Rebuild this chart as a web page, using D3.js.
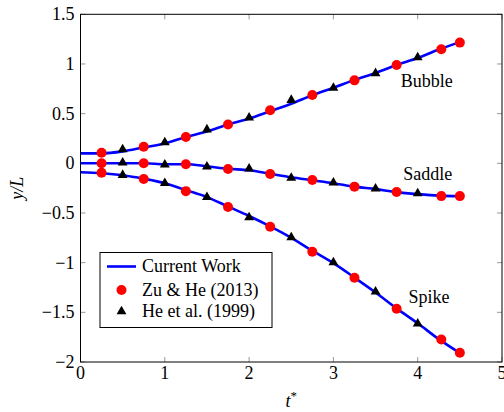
<!DOCTYPE html>
<html>
<head>
<meta charset="utf-8">
<script src="https://cdn.jsdelivr.net/npm/d3@7"></script>
</head>
<body style="margin:0">
<div id="chart"></div>
<script>
// Current Work (line) sampled every 0.25
var lineT = [0, 0.25, 0.5, 0.75, 1, 1.25, 1.5, 1.75, 2, 2.25, 2.5, 2.75, 3, 3.25, 3.5, 3.75, 4, 4.25, 4.5];
var lineBubble = [0.1, 0.1, 0.12, 0.16, 0.2, 0.265, 0.32, 0.39, 0.45, 0.525, 0.6, 0.685, 0.76, 0.84, 0.91, 0.99, 1.06, 1.145, 1.22];
var lineSaddle = [0.0, 0.0, 0.0, 0.0, -0.01, -0.01, -0.03, -0.055, -0.07, -0.105, -0.14, -0.17, -0.2, -0.235, -0.26, -0.29, -0.31, -0.325, -0.33];
var lineSpike = [-0.09, -0.1, -0.12, -0.155, -0.2, -0.27, -0.34, -0.435, -0.53, -0.635, -0.75, -0.88, -1.005, -1.15, -1.3, -1.46, -1.61, -1.77, -1.91];

// Zu & He (2013)
var zuT = [0.25, 0.75, 1.25, 1.75, 2.25, 2.75, 3.25, 3.75, 4.28, 4.5];
var zuBubble = [0.107, 0.167, 0.265, 0.39, 0.535, 0.688, 0.835, 0.99, 1.148, 1.215];
var zuSaddle = [0.0, 0.0, -0.01, -0.057, -0.108, -0.168, -0.235, -0.289, -0.33, -0.33];
var zuSpike = [-0.095, -0.158, -0.28, -0.44, -0.638, -0.89, -1.152, -1.464, -1.773, -1.907];

// He et al. (1999)
var heT = [0.5, 1, 1.5, 2, 2.5, 3, 3.5, 4];
var heBubble = [0.14, 0.21, 0.34, 0.46, 0.637, 0.76, 0.906, 1.067];
var heSaddle = [0.006, -0.014, -0.034, -0.054, -0.148, -0.195, -0.256, -0.302];
var heSpike = [-0.118, -0.2, -0.34, -0.544, -0.745, -0.997, -1.293, -1.615];

var xTicks = [0, 1, 2, 3, 4, 5];
var yTicks = [-2, -1.5, -1, -0.5, 0, 0.5, 1, 1.5];
var legendLabels = ['Current Work', 'Zu & He (2013)', 'He et al. (1999)'];
var curveNames = ['Bubble', 'Saddle', 'Spike'];

var W = 504, H = 412;
var x = d3.scaleLinear().domain([0, 5]).range([80.5, 502]);
var y = d3.scaleLinear().domain([-2, 1.5]).range([362, 14.3]);

var svg = d3.select('#chart').append('svg')
  .attr('width', W).attr('height', H);

function zip(ts, vs) {
  return ts.map(function (t, i) { return [t, vs[i]]; });
}

function label(parent, txt) {
  var t = parent.append('text')
    .style('font-family', 'Liberation Serif')
    .style('font-size', '18px');
  if (txt != null) t.text(txt);
  return t;
}

// inward ticks on all four sides
var tickLen = 5;
var tickColor = '#999';
var tg = svg.append('g');
xTicks.forEach(function (t) {
  tg.append('line').attr('x1', x(t)).attr('x2', x(t)).attr('y1', y(-2)).attr('y2', y(-2) - tickLen)
    .attr('stroke', tickColor);
  tg.append('line').attr('x1', x(t)).attr('x2', x(t)).attr('y1', y(1.5)).attr('y2', y(1.5) + tickLen)
    .attr('stroke', tickColor);
});
yTicks.forEach(function (v) {
  tg.append('line').attr('x1', x(0)).attr('x2', x(0) + tickLen).attr('y1', y(v)).attr('y2', y(v))
    .attr('stroke', tickColor);
  tg.append('line').attr('x1', x(5)).attr('x2', x(5) - tickLen).attr('y1', y(v)).attr('y2', y(v))
    .attr('stroke', tickColor);
});

// tick labels
var fmt = d3.format('~g');
xTicks.forEach(function (t) {
  label(svg, fmt(t)).attr('x', x(t)).attr('y', y(-2) + 17).attr('text-anchor', 'middle');
});
yTicks.forEach(function (v) {
  label(svg, fmt(v)).attr('x', x(0) - 6).attr('y', y(v)).attr('dy', '0.33em').attr('text-anchor', 'end');
});

// axis titles
var xt = label(svg, null).attr('x', x(2.5)).attr('y', 407).attr('text-anchor', 'middle');
xt.append('tspan').style('font-style', 'italic').text('t');
xt.append('tspan').attr('dy', -7).style('font-size', '13px').text('*');

label(svg, 'y/L').attr('transform', 'translate(23,' + y(-0.25) + ') rotate(-90)')
  .attr('text-anchor', 'middle').style('font-style', 'italic');

// lines
var line = d3.line().x(function (d) { return x(d[0]); }).y(function (d) { return y(d[1]); })
  .curve(d3.curveMonotoneX);
[lineBubble, lineSaddle, lineSpike].forEach(function (vals) {
  svg.append('path').datum(zip(lineT, vals))
    .attr('fill', 'none').attr('stroke', '#0000ff').attr('stroke-width', 2.6)
    .attr('d', line);
});

// Zu & He circles
[zuBubble, zuSaddle, zuSpike].forEach(function (vals) {
  svg.append('g').selectAll('circle').data(zip(zuT, vals)).enter().append('circle')
    .attr('cx', function (d) { return x(d[0]); })
    .attr('cy', function (d) { return y(d[1]); })
    .attr('r', 5).attr('fill', '#ff0000');
});

// He et al. triangles
var tri = d3.symbol().type(d3.symbolTriangle).size(42);
[heBubble, heSaddle, heSpike].forEach(function (vals) {
  svg.append('g').selectAll('path').data(zip(heT, vals)).enter().append('path')
    .attr('transform', function (d) { return 'translate(' + x(d[0]) + ',' + y(d[1]) + ')'; })
    .attr('d', tri).attr('fill', '#000');
});

// frame
svg.append('rect').attr('x', x(0)).attr('y', y(1.5))
  .attr('width', x(5) - x(0)).attr('height', y(-2) - y(1.5))
  .attr('fill', 'none').attr('stroke', '#000').attr('stroke-width', 1);

// curve names
var namePos = [[3.8, 0.83], [3.83, -0.11], [3.89, -1.35]];
curveNames.forEach(function (n, i) {
  label(svg, n).attr('x', x(namePos[i][0])).attr('y', y(namePos[i][1])).attr('dy', '0.33em');
});

// legend
var lg = svg.append('g').attr('transform', 'translate(100,252.5)');
lg.append('rect').attr('width', 172).attr('height', 75).attr('fill', '#fff')
  .attr('stroke', '#000').attr('stroke-width', 1);
var rowY = [14, 37.5, 59];
lg.append('line').attr('x1', 7).attr('x2', 36).attr('y1', rowY[0]).attr('y2', rowY[0])
  .attr('stroke', '#0000ff').attr('stroke-width', 2.6);
lg.append('circle').attr('cx', 21.5).attr('cy', rowY[1]).attr('r', 5).attr('fill', '#ff0000');
lg.append('path').attr('transform', 'translate(21.5,' + rowY[2] + ')').attr('d', tri).attr('fill', '#000');
legendLabels.forEach(function (l, i) {
  label(lg, l).attr('x', 42).attr('y', rowY[i]).attr('dy', '0.33em');
});
</script>
</body>
</html>
